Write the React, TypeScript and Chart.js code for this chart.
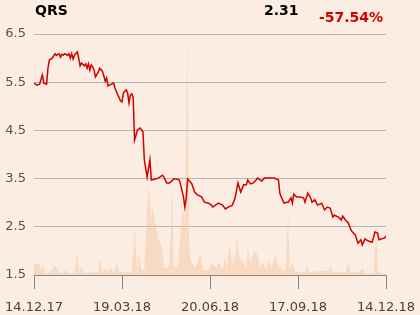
import React, { useEffect, useRef } from "react";
import { Chart, registerables } from "chart.js";

Chart.register(...registerables);

// trading-day index (0 = 14.12.17, 252 = 14.12.18)
const priceDays = [
  0, 2, 4, 6, 7, 9, 10, 11, 13, 15, 16, 18, 19, 20, 21, 22, 24, 25, 26, 27, 28, 29, 31, 32, 33, 34, 36, 37, 38, 39,
  40, 41, 42, 43, 44, 46, 47, 49, 50, 51, 52, 53, 54, 57, 58, 59, 62, 63, 64, 66, 67, 68, 69, 70, 71, 72, 73, 74, 76, 78,
  79, 81, 83, 84, 87, 89, 92, 93, 95, 97, 100, 102, 104, 105, 107, 108, 109, 110, 112, 113, 115, 117, 120, 122, 125, 127, 128, 130, 132, 135,
  137, 139, 142, 144, 146, 148, 150, 152, 153, 155, 157, 159, 160, 163, 165, 167, 172, 175, 176, 177, 179, 181, 182, 184, 185, 186, 188, 190, 193, 194,
  196, 198, 199, 201, 203, 206, 208, 210, 212, 214, 215, 218, 220, 221, 223, 225, 227, 228, 230, 232, 234, 235, 237, 239, 242, 243, 244, 246, 247, 249,
  251, 252,
];
const prices = [
  5.48, 5.44, 5.46, 5.65, 5.48, 5.46, 5.79, 5.96, 6.0, 6.09, 6.06, 6.09, 6.02, 6.08, 6.06, 6.09, 6.06, 6.09, 6.0, 6.09, 5.98, 6.06, 6.13, 6.0, 5.84, 5.9, 5.84, 5.88, 5.79, 5.88,
  5.75, 5.86, 5.82, 5.75, 5.61, 5.71, 5.79, 5.73, 5.63, 5.52, 5.59, 5.42, 5.44, 5.48, 5.38, 5.3, 5.11, 5.09, 5.28, 5.34, 5.28, 5.07, 5.23, 5.26, 5.19, 4.3, 4.4, 4.51, 4.55, 4.47,
  3.89, 3.53, 3.89, 3.47, 3.49, 3.51, 3.57, 3.53, 3.41, 3.41, 3.49, 3.49, 3.47, 3.37, 3.12, 2.91, 3.1, 3.49, 3.43, 3.39, 3.22, 3.16, 3.12, 3.01, 2.99, 2.95, 2.91, 2.95, 2.99, 2.95,
  2.87, 2.91, 2.95, 3.1, 3.41, 3.22, 3.37, 3.37, 3.47, 3.39, 3.41, 3.47, 3.51, 3.45, 3.51, 3.51, 3.51, 3.47, 3.2, 3.12, 2.99, 3.01, 3.01, 3.1, 2.99, 3.18, 3.12, 3.12, 3.1, 3.01,
  3.2, 3.1, 3.01, 3.06, 2.95, 2.99, 2.85, 2.91, 2.89, 2.7, 2.74, 2.7, 2.64, 2.72, 2.64, 2.58, 2.43, 2.39, 2.33, 2.16, 2.23, 2.12, 2.25, 2.21, 2.18, 2.27, 2.39, 2.37, 2.23, 2.25,
  2.27, 2.31,
];

const volumeDays = [
  0, 1, 4, 5, 6, 8, 11, 14, 16, 18, 21, 23, 24, 29, 31, 32, 34, 36, 44, 46, 47, 49, 51, 52, 55, 57, 59, 61, 67, 70,
  72, 74, 75, 77, 79, 81, 82, 84, 85, 87, 89, 90, 92, 93, 96, 97, 99, 100, 103, 106, 107, 108, 110, 111, 112, 115, 117, 119, 121, 125,
  127, 130, 133, 135, 137, 138, 140, 142, 143, 144, 145, 147, 150, 152, 153, 155, 156, 158, 160, 162, 164, 166, 168, 170, 173, 174, 176, 180, 182, 183,
  185, 187, 194, 195, 197, 205, 210, 213, 214, 223, 225, 227, 233, 235, 237, 243, 244, 245, 246, 248, 252,
];
const volumes = [
  10, 12, 11, 3, 11, 2, 2, 8, 8, 2, 2, 7, 2, 2, 25, 3, 8, 2, 3, 2, 17, 3, 7, 2, 8, 2, 12, 3, 3, 2,
  47, 4, 22, 5, 5, 65, 92, 55, 68, 52, 35, 35, 22, 7, 7, 12, 87, 8, 8, 60, 65, 50, 238, 30, 15, 8, 12, 22, 5, 5,
  12, 8, 13, 5, 18, 5, 32, 8, 22, 8, 37, 18, 12, 5, 28, 10, 18, 23, 20, 8, 12, 5, 15, 8, 20, 13, 8, 3, 63, 5,
  12, 3, 3, 10, 3, 4, 4, 8, 3, 3, 12, 3, 3, 7, 2, 2, 20, 45, 5, 2, 2,
];

const xTickDays = [0, 63, 126, 189, 252];
const xTickLabels = ["14.12.17", "19.03.18", "20.06.18", "17.09.18", "14.12.18"];
const yTicks = [1.5, 2.5, 3.5, 4.5, 5.5, 6.5];

const ticker = "QRS";
const lastPrice = "2.31";
const change = "-57.54%";

const BG = "#FBEDE1";
const FONT = "'DejaVu Sans', sans-serif";

export default function App() {
  const ref = useRef<HTMLCanvasElement | null>(null);

  useEffect(() => {
    if (!ref.current) return;
    const chart = new Chart(ref.current, {
      type: "line",
      data: {
        datasets: [
          {
            data: priceDays.map((d, i) => ({ x: d, y: prices[i] })),
            borderColor: "#d40000",
            borderWidth: 1.5,
            pointRadius: 0,
            tension: 0,
            fill: false,
            yAxisID: "y",
          },
          {
            data: volumeDays.map((d, i) => ({ x: d, y: volumes[i] })),
            borderWidth: 0,
            borderColor: "rgba(0,0,0,0)",
            backgroundColor: "rgba(245,195,158,0.45)",
            pointRadius: 0,
            tension: 0,
            fill: "origin",
            yAxisID: "y2",
          },
        ],
      },
      options: {
        animation: false,
        responsive: false,
        devicePixelRatio: 1,
        layout: { padding: { left: 0, right: 34, top: 34, bottom: 0 } },
        plugins: { legend: { display: false }, tooltip: { enabled: false } },
        scales: {
          x: {
            type: "linear",
            min: 0,
            max: 252,
            afterBuildTicks: (s: any) => {
              s.ticks = xTickDays.map((v) => ({ value: v }));
            },
            afterFit: (s: any) => {
              s.height = 40;
              s.paddingLeft = 0;
              s.paddingRight = 0;
            },
            ticks: {
              autoSkip: false,
              maxRotation: 0,
              padding: 11,
              color: "#444",
              font: { family: FONT, size: 13 },
              callback: (v: any) => xTickLabels[xTickDays.indexOf(Number(v))] ?? "",
            },
            grid: { drawOnChartArea: false, drawTicks: true, tickLength: 14, color: "#888" },
            border: { display: true, color: "#888", width: 1 },
          },
          y: {
            min: 1.5,
            max: 6.5,
            afterBuildTicks: (s: any) => {
              s.ticks = yTicks.map((v) => ({ value: v }));
            },
            afterFit: (s: any) => {
              s.width = 34;
              s.paddingTop = 0;
              s.paddingBottom = 0;
            },
            ticks: {
              padding: 8,
              color: "#555",
              font: { family: FONT, size: 13 },
              callback: (v: any) => Number(v).toFixed(1),
            },
            grid: { color: "#b5b5b5", lineWidth: 1, drawTicks: false },
            border: { display: false },
          },
          y2: {
            display: false,
            min: 0,
            max: 241,
          },
        },
      },
    });
    return () => chart.destroy();
  }, []);

  const txt: React.CSSProperties = {
    position: "absolute",
    fontFamily: FONT,
    fontWeight: "bold",
    fontSize: 14,
    lineHeight: "14px",
    whiteSpace: "nowrap",
  };

  return (
    <div style={{ position: "fixed", left: 0, top: 0, width: 420, height: 315, background: BG }}>
      <canvas ref={ref} width={420} height={315} style={{ position: "absolute", left: 0, top: 0 }} />
      <div style={{ ...txt, left: 35, top: 3, color: "#000" }}>{ticker}</div>
      <div style={{ ...txt, left: 264, top: 3, color: "#000" }}>{lastPrice}</div>
      <div style={{ ...txt, left: 319, top: 10, color: "#d40000" }}>{change}</div>
    </div>
  );
}
